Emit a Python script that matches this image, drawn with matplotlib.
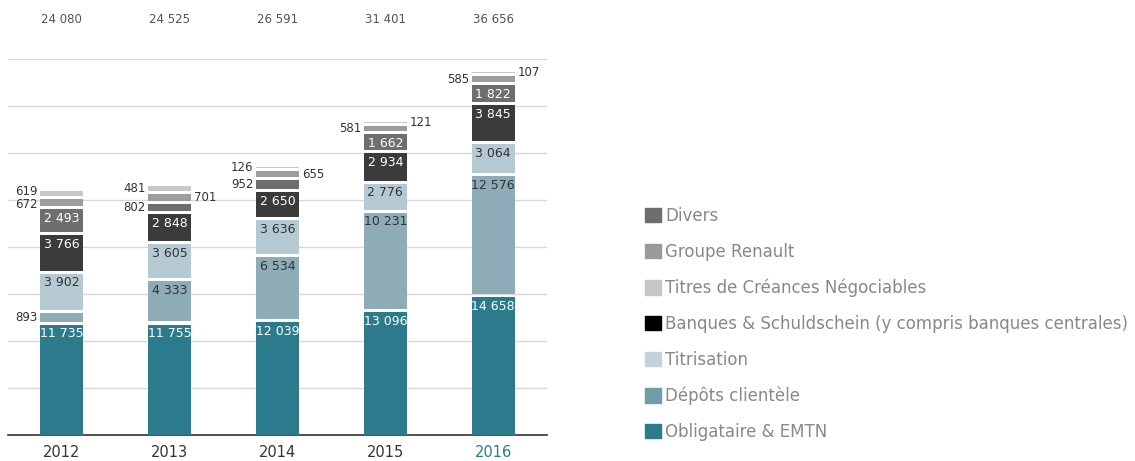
import matplotlib.pyplot as plt
from matplotlib.patches import Patch

plt.rcParams['font.family'] = ['DejaVu Sans']

years = ['2012', '2013', '2014', '2015', '2016']
totals = [24080, 24525, 26591, 31401, 36656]

obligataire = [11735, 11755, 12039, 13096, 14658]
depots = [893, 4333, 6534, 10231, 12576]
titrisation = [3902, 3605, 3636, 2776, 3064]
banques = [3766, 2848, 2650, 2934, 3845]
divers = [2493, 802, 952, 1662, 1822]
renault = [672, 701, 655, 581, 585]
tcn = [619, 481, 126, 121, 107]

# where each value label goes: in / left / right of the bar
pos_obligataire = ['in'] * 5
pos_depots = ['left', 'in', 'in', 'in', 'in']
pos_titrisation = ['in'] * 5
pos_banques = ['in'] * 5
pos_divers = ['in', 'left', 'left', 'in', 'in']
pos_renault = ['left', 'right', 'right', 'left', 'left']
pos_tcn = ['left', 'left', 'left', 'right', 'right']

series = [
    ('Obligataire & EMTN', obligataire, pos_obligataire, '#2b7b8c', 'white', '#2b7b8c'),
    ('Dépôts clientèle', depots, pos_depots, '#8eabb8', '#333333', '#6f9ea9'),
    ('Titrisation', titrisation, pos_titrisation, '#b5c9d3', '#333333', '#c3d3db'),
    ('Banques & Schuldschein (y compris banques centrales)', banques, pos_banques, '#3b3b3b', 'white', '#000000'),
    ('Divers', divers, pos_divers, '#6e6e6e', 'white', '#6e6e6e'),
    ('Groupe Renault', renault, pos_renault, '#9d9d9d', '#333333', '#9a9a9a'),
    ('Titres de Créances Négociables', tcn, pos_tcn, '#c8c8c8', '#333333', '#c6c6c6'),
]
legend_order = [4, 5, 6, 3, 2, 1, 0]
# small vertical nudges (points) so close outside labels don't collide
nudge = {(0, 'Groupe Renault'): -1.5, (0, 'Titres de Créances Négociables'): 1.5}


def fmt(v):
    return f'{v:,}'.replace(',', ' ')


fig = plt.figure(figsize=(11.35, 4.61), dpi=100)
ax = fig.add_axes([8 / 1135, 26 / 461, 539 / 1135, 376 / 461])

gap = 320
width = 0.4
for i in range(len(years)):
    bottom = 0
    for name, vals, pos, color, tcol, lcol in series:
        v = vals[i]
        ax.bar(i, v, width, bottom=bottom, color=color, zorder=3)
        dy = nudge.get((i, name), 0)
        if pos[i] == 'in':
            ax.annotate(fmt(v), (i, bottom + v), xytext=(0, -2), textcoords='offset points',
                        ha='center', va='top', color=tcol, fontsize=9, zorder=4)
        elif pos[i] == 'left':
            ax.annotate(fmt(v), (i - width / 2, bottom + v / 2), xytext=(-2, dy), textcoords='offset points',
                        ha='right', va='center', color='#333333', fontsize=8.5)
        else:
            ax.annotate(fmt(v), (i + width / 2, bottom + v / 2), xytext=(2, dy), textcoords='offset points',
                        ha='left', va='center', color='#333333', fontsize=8.5)
        bottom += v + gap
    ax.text(i, 1.104, fmt(totals[i]), transform=ax.get_xaxis_transform(),
            ha='center', va='center', color='#555555', fontsize=8.5)

ax.set_xlim(-0.5, len(years) - 0.5)
ax.set_ylim(0, 40000)
ax.set_yticks(range(0, 40001, 5000))
ax.yaxis.grid(True, color='#d9d9d9', lw=1)
ax.set_axisbelow(True)
ax.tick_params(axis='y', length=0, labelleft=False)
ax.set_xticks(range(len(years)))
ax.set_xticklabels(years, fontsize=10.5, color='#333333')
ax.get_xticklabels()[-1].set_color('#2b7b8c')
ax.tick_params(axis='x', length=0, pad=7)
for s in ['top', 'right', 'left']:
    ax.spines[s].set_visible(False)
ax.spines['bottom'].set_color('#333333')
ax.spines['bottom'].set_linewidth(1.2)

handles = [Patch(color=series[k][5], label=series[k][0]) for k in legend_order]
fig.legend(handles=handles, loc='upper left', bbox_to_anchor=(645 / 1135, (461 - 207) / 461),
           frameon=False, fontsize=12, labelcolor='#888888', handlelength=0.95, handleheight=0.95,
           handletextpad=0.25, labelspacing=1.07, borderpad=0, borderaxespad=0)

fig.savefig('out.png', dpi=100)
